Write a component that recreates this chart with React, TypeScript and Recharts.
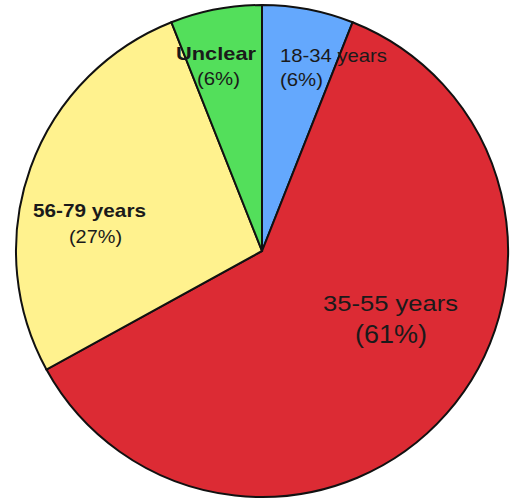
import React from "react";
import { PieChart, Pie, Cell } from "recharts";

const categories = ["18-34 years", "35-55 years", "56-79 years", "Unclear"];
const shares = [6, 61, 27, 6];
const percentLabels = ["(6%)", "(61%)", "(27%)", "(6%)"];
const colors = ["#64a8fd", "#dc2b34", "#fff28e", "#53df5b"];

const data = categories.map((name, i) => ({ name, value: shares[i] }));

// label text styling/layout relative to pie centre
const labelLayout = [
  { dx1: 18, dy1: -189, w1: 107, s1: 19, dx2: 18, dy2: -165, w2: 43, s2: 18, bold: false },
  { dx1: 61, dy1: 60, w1: 135, s1: 22, dx2: 93, dy2: 92, w2: 72, s2: 26, bold: false },
  { dx1: -229, dy1: -34, w1: 113, s1: 19, dx2: -193, dy2: -8, w2: 53, s2: 18, bold: true },
  { dx1: -86, dy1: -191, w1: 80, s1: 19, dx2: -65, dy2: -166, w2: 43, s2: 18, bold: true },
];

const renderLabel = (props: any) => {
  const { cx, cy, index } = props;
  const L = labelLayout[index];
  return (
    <g key={"lbl" + index} fontFamily="'Liberation Sans', Arial, sans-serif">
      <text
        x={cx + L.dx1}
        y={cy + L.dy1}
        fontSize={L.s1}
        fontWeight={L.bold ? 700 : 400}
        textLength={L.w1}
        lengthAdjust="spacingAndGlyphs"
        textAnchor="start"
        fill="#1a1a1a"
      >
        {categories[index]}
      </text>
      <text
        x={cx + L.dx2}
        y={cy + L.dy2}
        fontSize={L.s2}
        textLength={L.w2}
        lengthAdjust="spacingAndGlyphs"
        textAnchor="start"
        fill="#1a1a1a"
      >
        {percentLabels[index]}
      </text>
    </g>
  );
};

export default function App() {
  return (
    <div style={{ position: "absolute", left: 0, top: 0, background: "#fff" }}>
      <PieChart width={515} height={502} margin={{ top: 0, right: 0, bottom: 0, left: 0 }}>
        <Pie
          data={data}
          dataKey="value"
          cx={262}
          cy={251}
          outerRadius={246}
          startAngle={90}
          endAngle={-270}
          stroke="#111"
          strokeWidth={2}
          label={renderLabel}
          labelLine={false}
          isAnimationActive={false}
        >
          {data.map((d, i) => (
            <Cell key={d.name} fill={colors[i]} />
          ))}
        </Pie>
      </PieChart>
    </div>
  );
}
